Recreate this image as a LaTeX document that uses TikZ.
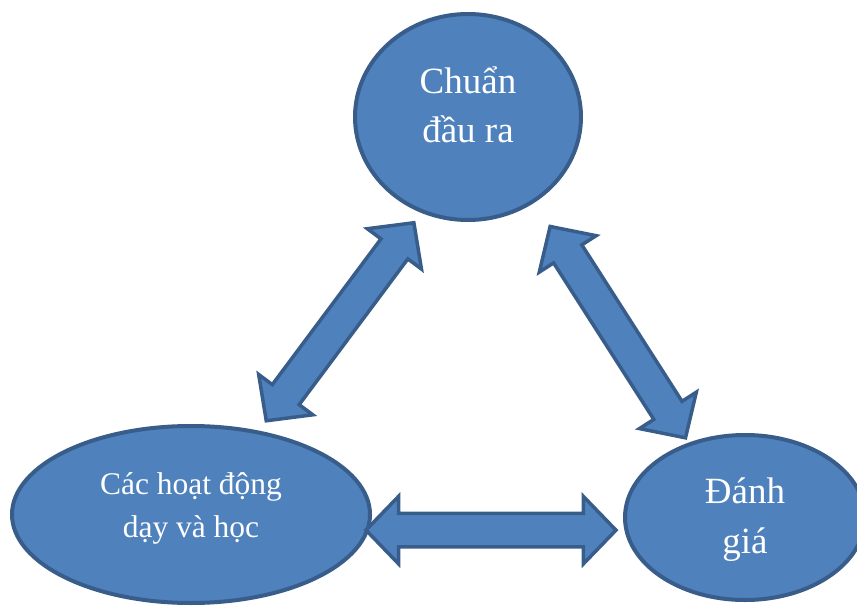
\documentclass[tikz,border=0pt]{standalone}
\usepackage{fontspec}
\setmainfont{Liberation Serif}
\usetikzlibrary{shapes.geometric,shapes.arrows}

\definecolor{blobfill}{RGB}{79,129,189}
\definecolor{blobline}{RGB}{56,93,138}

\tikzset{
  blob/.style={ellipse, draw=blobline, fill=blobfill, line width=4pt, inner sep=0pt, text=white, align=center},
  bigtxt/.style={font=\fontsize{37}{50}\selectfont},
  smalltxt/.style={font=\fontsize{31.5}{43}\selectfont},
  dblarr/.style={double arrow, draw=blobline, fill=blobfill, line width=3.5pt, inner xsep=0pt, inner ysep=15pt,
    double arrow head extend=17pt, double arrow tip angle=92}
}

\begin{document}
\begin{tikzpicture}[x=1pt,y=-1pt]
\useasboundingbox (0,0) rectangle (857,607);
\clip (0,0) rectangle (857,607);

% Ellipses
\node[blob, bigtxt, minimum width=226pt, minimum height=206pt, text height=52pt, text depth=0pt] (chuan) at (468,117) {Chuẩn\\đầu ra};
\node[blob, smalltxt, minimum width=358pt, minimum height=177pt, text height=45pt, text depth=0pt] (hoat) at (191,514.5) {Các hoạt động\\dạy và học};
\node[blob, bigtxt, minimum width=240pt, minimum height=165pt, text height=71pt, text depth=0pt] (danhgia) at (745,517.5) {Đánh\\giá};

% Double arrows
\path (hoat.51) -- (chuan.244) node[dblarr, midway, sloped, minimum height=247pt] (arrl) {};
\path (chuan.-52) -- (danhgia.127) node[dblarr, pos=0.54, sloped, minimum height=251pt] (arrr) {};
\path (hoat.-5) -- (danhgia.186) node[dblarr, pos=0.477, sloped, minimum height=250pt] (arrb) {};
\end{tikzpicture}
\end{document}
